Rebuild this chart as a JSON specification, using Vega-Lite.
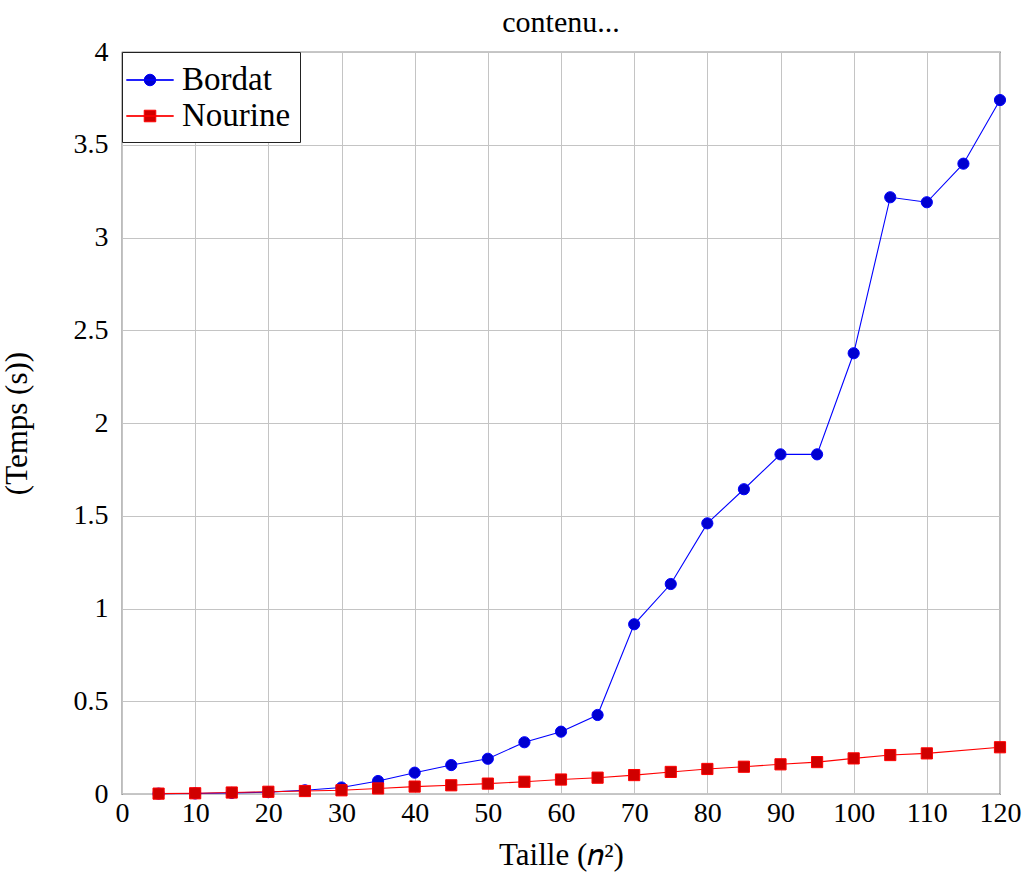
{
  "$schema": "https://vega.github.io/schema/vega-lite/v6.json",
  "autosize": "none",
  "width": 878,
  "height": 742,
  "padding": {"left": 122, "top": 52, "right": 29, "bottom": 86},
  "title": {"text": "contenu...", "anchor": "middle", "frame": "group", "offset": 0},
  "data": {"values": [
    {"n": 5, "t": 0.002, "s": "Bordat"},
    {"n": 10, "t": 0.003, "s": "Bordat"},
    {"n": 15, "t": 0.006, "s": "Bordat"},
    {"n": 20, "t": 0.01, "s": "Bordat"},
    {"n": 25, "t": 0.02, "s": "Bordat"},
    {"n": 30, "t": 0.035, "s": "Bordat"},
    {"n": 35, "t": 0.07, "s": "Bordat"},
    {"n": 40, "t": 0.115, "s": "Bordat"},
    {"n": 45, "t": 0.156, "s": "Bordat"},
    {"n": 50, "t": 0.19, "s": "Bordat"},
    {"n": 55, "t": 0.279, "s": "Bordat"},
    {"n": 60, "t": 0.336, "s": "Bordat"},
    {"n": 65, "t": 0.426, "s": "Bordat"},
    {"n": 70, "t": 0.915, "s": "Bordat"},
    {"n": 75, "t": 1.132, "s": "Bordat"},
    {"n": 80, "t": 1.459, "s": "Bordat"},
    {"n": 85, "t": 1.643, "s": "Bordat"},
    {"n": 90, "t": 1.831, "s": "Bordat"},
    {"n": 95, "t": 1.831, "s": "Bordat"},
    {"n": 100, "t": 2.376, "s": "Bordat"},
    {"n": 105, "t": 3.217, "s": "Bordat"},
    {"n": 110, "t": 3.19, "s": "Bordat"},
    {"n": 115, "t": 3.398, "s": "Bordat"},
    {"n": 120, "t": 3.741, "s": "Bordat"},
    {"n": 5, "t": 0.002, "s": "Nourine"},
    {"n": 10, "t": 0.004, "s": "Nourine"},
    {"n": 15, "t": 0.008, "s": "Nourine"},
    {"n": 20, "t": 0.012, "s": "Nourine"},
    {"n": 25, "t": 0.016, "s": "Nourine"},
    {"n": 30, "t": 0.02, "s": "Nourine"},
    {"n": 35, "t": 0.03, "s": "Nourine"},
    {"n": 40, "t": 0.04, "s": "Nourine"},
    {"n": 45, "t": 0.047, "s": "Nourine"},
    {"n": 50, "t": 0.056, "s": "Nourine"},
    {"n": 55, "t": 0.066, "s": "Nourine"},
    {"n": 60, "t": 0.078, "s": "Nourine"},
    {"n": 65, "t": 0.088, "s": "Nourine"},
    {"n": 70, "t": 0.102, "s": "Nourine"},
    {"n": 75, "t": 0.119, "s": "Nourine"},
    {"n": 80, "t": 0.135, "s": "Nourine"},
    {"n": 85, "t": 0.147, "s": "Nourine"},
    {"n": 90, "t": 0.16, "s": "Nourine"},
    {"n": 95, "t": 0.172, "s": "Nourine"},
    {"n": 100, "t": 0.192, "s": "Nourine"},
    {"n": 105, "t": 0.21, "s": "Nourine"},
    {"n": 110, "t": 0.219, "s": "Nourine"},
    {"n": 120, "t": 0.252, "s": "Nourine"}
  ]},
  "encoding": {
    "x": {"field": "n", "type": "quantitative",
      "scale": {"domain": [0, 120], "nice": false},
      "axis": {"values": [0,10,20,30,40,50,60,70,80,90,100,110,120], "format": "d", "labelOverlap": false, "labelFlush": false, "title": "Taille (𝑛²)", "titlePadding": 13}},
    "y": {"field": "t", "type": "quantitative",
      "scale": {"domain": [0, 4], "nice": false},
      "axis": {"values": [0,0.5,1,1.5,2,2.5,3,3.5,4], "format": "~g", "labelOverlap": false, "labelFlush": false, "title": "(Temps (s))", "titlePadding": 40}}
  },
  "layer": [
    {
      "mark": {"type": "line", "strokeWidth": 1.1},
      "encoding": {
        "stroke": {"field": "s", "type": "nominal", "scale": {"domain": ["Bordat", "Nourine"], "range": ["#0000ff", "#ff0000"]}, "legend": null}
      }
    },
    {
      "mark": {"type": "point", "filled": true, "strokeWidth": 1, "opacity": 1},
      "encoding": {
        "fill": {"field": "s", "type": "nominal", "scale": {"domain": ["Bordat", "Nourine"], "range": ["#0000d0", "#d00000"]}, "legend": null},
        "stroke": {"field": "s", "type": "nominal", "scale": {"domain": ["Bordat", "Nourine"], "range": ["#0000ff", "#ff0000"]}, "legend": null},
        "shape": {"field": "s", "type": "nominal", "scale": {"domain": ["Bordat", "Nourine"], "range": ["circle", "square"]}, "legend": null},
        "size": {"value": 125}
      }
    },
    {
      "mark": {"type": "point", "filled": true, "opacity": 0},
      "encoding": {
        "fill": {"field": "s", "type": "nominal", "scale": {"domain": ["Bordat", "Nourine"], "range": ["#0000d0", "#d00000"]}, "legend": {"title": null}},
        "stroke": {"field": "s", "type": "nominal", "scale": {"domain": ["Bordat", "Nourine"], "range": ["#0000ff", "#ff0000"]}, "legend": {"title": null}},
        "shape": {"field": "s", "type": "nominal",
          "scale": {"domain": ["Bordat", "Nourine"], "range": [
            "M-1.3,-0.015H1.3V0.015H-1.3Z M0.32,0A0.32,0.32,0,1,1,-0.32,0A0.32,0.32,0,1,1,0.32,0Z",
            "M-1.3,-0.015H1.3V0.015H-1.3Z M-0.32,-0.32H0.32V0.32H-0.32Z"
          ]},
          "legend": {"title": null}}
      }
    }
  ],
  "resolve": {"scale": {"shape": "independent", "fill": "independent", "stroke": "independent"}},
  "config": {
    "view": {"stroke": "#222", "strokeWidth": 1.2},
    "title": {"font": "Liberation Serif", "fontSize": 30, "fontWeight": "normal", "color": "black"},
    "axis": {
      "domain": false, "ticks": false,
      "grid": true, "gridColor": "#c4c4c4", "gridWidth": 1,
      "labelFont": "Liberation Serif", "labelFontSize": 28, "labelColor": "black",
      "titleFont": "Liberation Serif", "titleFontSize": 31, "titleFontWeight": "normal", "titleColor": "black",
      "labelPadding": 5
    },
    "axisY": {"labelPadding": 14},
    "legend": {
      "orient": "top-left", "offset": 0, "padding": 9,
      "strokeColor": "#222", "fillColor": "white",
      "labelFont": "Liberation Serif", "labelFontSize": 33, "labelColor": "black",
      "symbolSize": 1300, "symbolOpacity": 1, "symbolStrokeWidth": 1,
      "labelOffset": 13, "rowPadding": 0
    }
  }
}
